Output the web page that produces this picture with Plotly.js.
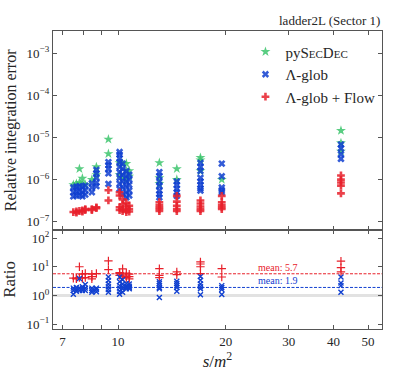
<!DOCTYPE html>
<html>
<head>
<meta charset="utf-8">
<script src="https://cdn.plot.ly/plotly-3.0.1.min.js"></script>
<style>body{margin:0;background:#fff}#chart{width:411px;height:374px}</style>
</head>
<body>
<div id="chart"></div>
<script>
// kinematic points s/m^2
const sPoints = [7.5, 7.65, 7.8, 7.95, 8.1, 8.45, 8.7, 9.4, 10.1, 10.3, 10.55, 10.75, 13.05, 14.6, 17.0, 19.5, 42.0];

// relative integration errors (per kinematic point)
const errPySecDec = [
  [7.5e-7], [8.0e-7, 6.8e-7], [1.8e-6, 8.5e-7], [1.07e-6, 7.8e-7], [7.5e-7],
  [1.0e-6], [2.0e-6, 1.3e-6], [9.0e-6, 4.1e-6],
  [2.5e-6, 1.3e-6], [2.4e-6, 1.1e-6], [2.4e-6, 1.6e-6, 1.0e-6], [1.6e-6, 1.2e-6],
  [2.5e-6, 1.1e-6, 8.0e-7], [1.8e-6, 1.0e-6], [3.3e-6, 2.9e-6, 1.6e-6], [1.0e-6],
  [1.45e-5, 7.4e-6, 4.7e-6]
];
const errGlob = [
  [6.5e-7, 5.0e-7, 4.0e-7], [6.8e-7, 5.3e-7, 4.2e-7], [7.0e-7, 5.5e-7, 4.3e-7], [6.6e-7, 5.0e-7, 4.0e-7], [7.2e-7, 5.6e-7, 4.4e-7],
  [8.2e-7, 6.5e-7, 5.0e-7], [1.7e-6, 1.4e-6, 1.1e-6, 8.5e-7, 7.0e-7],
  [2.6e-6, 2.2e-6, 1.8e-6, 1.4e-6, 7.9e-7],
  [4.5e-6, 3.9e-6, 3.2e-6, 2.6e-6, 2.0e-6, 1.5e-6, 1.1e-6, 8.0e-7, 6.0e-7],
  [2.4e-6, 1.8e-6, 1.3e-6, 9.0e-7, 6.5e-7, 4.5e-7],
  [1.6e-6, 1.2e-6, 9.0e-7, 7.0e-7, 5.0e-7, 3.8e-7],
  [1.3e-6, 1.0e-6, 7.5e-7, 5.5e-7, 4.2e-7],
  [1.5e-6, 1.2e-6, 9.0e-7, 7.0e-7, 5.5e-7, 4.5e-7, 3.8e-7],
  [9.0e-7, 7.5e-7, 6.0e-7, 5.0e-7, 4.1e-7],
  [2.5e-6, 2.0e-6, 1.6e-6, 1.1e-6, 9.0e-7, 7.5e-7, 6.2e-7, 5.5e-7],
  [2.4e-6, 1.2e-6, 6.5e-7, 5.6e-7, 5.0e-7],
  [6.8e-6, 5.5e-6, 4.0e-6, 3.1e-6]
];
const errGlobFlow = [
  [1.7e-7], [1.75e-7, 1.65e-7], [1.8e-7], [1.85e-7, 1.75e-7], [2.0e-7, 1.9e-7],
  [2.0e-7, 1.9e-7], [2.2e-7, 2.1e-7], [5.6e-7, 3.2e-7],
  [5.0e-7, 4.2e-7, 2.2e-7, 1.9e-7], [3.4e-7, 2.6e-7, 2.0e-7, 1.8e-7],
  [2.8e-7, 2.3e-7, 1.9e-7, 1.7e-7], [2.4e-7, 2.0e-7, 1.75e-7],
  [2.9e-7, 2.5e-7, 2.2e-7, 2.0e-7, 1.8e-7], [4.1e-7, 3.0e-7, 2.4e-7, 2.0e-7, 1.8e-7],
  [3.2e-7, 2.7e-7, 2.3e-7, 2.0e-7, 1.8e-7], [4.1e-7, 2.9e-7, 2.5e-7, 2.2e-7, 2.0e-7],
  [1.25e-6, 1.0e-6, 8.5e-7, 7.2e-7, 4.7e-7]
];

// ratios pySecDec / method (per kinematic point)
const ratioGlob = [
  [1.8, 1.5, 1.1], [1.9, 1.6, 1.4], [3.9, 1.8, 1.5], [2.0, 1.7, 1.5], [2.4, 1.8, 1.5],
  [1.8, 1.5, 1.3], [1.8, 1.6, 1.35], [4.4, 3.3, 2.5, 2.0, 1.6, 1.3],
  [4.4, 3.0, 2.2, 1.8, 1.4, 1.1], [3.5, 2.5, 2.0, 1.7, 1.3], [2.6, 2.1, 1.9, 1.7], [2.5, 2.1, 1.9, 1.7],
  [3.0, 2.6, 2.2, 1.9, 1.7, 0.85], [3.1, 2.6, 2.2, 1.9, 1.4], [4.6, 3.4, 2.5, 2.0, 1.7, 1.05],
  [2.2, 1.9, 1.6, 1.08], [4.4, 2.7, 2.2, 1.3]
];
const ratioFlow = [
  [4.0], [4.0, 3.8], [10.0, 4.2], [5.5, 4.0], [5.8, 4.2],
  [5.5, 4.5, 3.8], [5.8], [16, 8],
  [6.2, 5.8, 5.0], [8.5, 5.5, 4.5], [6.0, 4.8, 4.2], [5.5, 4.5, 3.8],
  [8.6, 5.0, 4.2], [6.6, 5.3], [14.7, 12.5, 10, 5.8], [8.6, 4.4], [15.7, 9.3, 6.6]
];
const meanGlob = 1.9;
const meanFlow = 5.7;

const xTickVals = [7, 8, 9, 10, 20, 30, 40, 50];
const xTickText = ['7', '', '', '10', '20', '30', '40', '50'];
const yTopTickVals = [1e-7, 1e-6, 1e-5, 1e-4, 1e-3];
const yTopTickText = ['10<sup>−7</sup>', '10<sup>−6</sup>', '10<sup>−5</sup>', '10<sup>−4</sup>', '10<sup>−3</sup>'];
const yBotTickVals = [0.1, 1, 10, 100];
const yBotTickText = ['10<sup>−1</sup>', '10<sup>0</sup>', '10<sup>1</sup>', '10<sup>2</sup>'];

function flatten(groups) {
  const xs = [], ys = [];
  groups.forEach((g, i) => g.forEach(v => { xs.push(sPoints[i]); ys.push(v); }));
  return {x: xs, y: ys};
}

const GREEN = '#3cc46c', BLUE = '#1140d0', RED = '#e8202a';
const FONT = '"Liberation Serif", "Times New Roman", serif';
const INK = '#262626';

const fPy = flatten(errPySecDec), fGl = flatten(errGlob), fFl = flatten(errGlobFlow);
const fRG = flatten(ratioGlob), fRF = flatten(ratioFlow);

const traces = [
  {x: fPy.x, y: fPy.y, xaxis: 'x2', yaxis: 'y2', type: 'scatter', mode: 'markers',
   name: 'pyS<span style="font-size:11px">EC</span>D<span style="font-size:11px">EC</span>',
   marker: {symbol: 'star', size: 7.5, color: GREEN, opacity: 0.85}},
  {x: fGl.x, y: fGl.y, xaxis: 'x2', yaxis: 'y2', type: 'scatter', mode: 'markers', name: 'Λ-glob',
   marker: {symbol: 'x', size: 6.5, color: BLUE, opacity: 0.85}},
  {x: fFl.x, y: fFl.y, xaxis: 'x2', yaxis: 'y2', type: 'scatter', mode: 'markers', name: 'Λ-glob + Flow',
   marker: {symbol: 'cross', size: 6.5, color: RED, opacity: 0.85}},
  {x: fRF.x, y: fRF.y, xaxis: 'x', yaxis: 'y', type: 'scatter', mode: 'markers', showlegend: false,
   marker: {symbol: 'cross-thin-open', size: 6, color: RED, line: {color: RED, width: 1.2}}},
  {x: fRG.x, y: fRG.y, xaxis: 'x', yaxis: 'y', type: 'scatter', mode: 'markers', showlegend: false,
   marker: {symbol: 'x-thin-open', size: 5, color: BLUE, line: {color: BLUE, width: 1.4}}}
];

const axLine = {showline: true, linecolor: '#555', linewidth: 1.2, mirror: 'ticks', ticks: 'inside',
  ticklen: 4, tickcolor: '#555', tickwidth: 1, showgrid: false, zeroline: false};

const layout = {
  width: 411, height: 374,
  margin: {l: 53, r: 29, t: 31, b: 45},
  paper_bgcolor: '#fff', plot_bgcolor: '#fff',
  font: {family: FONT, color: INK, size: 13},
  showlegend: true,
  legend: {x: 0.585, y: 0.985, xanchor: 'left', yanchor: 'top', bgcolor: 'rgba(0,0,0,0)',
    font: {family: FONT, size: 15, color: INK}, tracegroupgap: 0},
  xaxis: Object.assign({}, axLine, {type: 'log', range: [Math.log10(6.58), Math.log10(54.7)], anchor: 'y',
    domain: [0, 1], tickmode: 'array', tickvals: xTickVals, ticktext: xTickText,
    tickfont: {family: FONT, size: 13, color: INK},
    title: {text: '<i>s</i>/<i>m</i><sup>2</sup>', font: {family: FONT, size: 17, color: INK}, standoff: 5}}),
  xaxis2: Object.assign({}, axLine, {type: 'log', range: [Math.log10(6.58), Math.log10(54.7)], anchor: 'y2',
    domain: [0, 1], matches: 'x', tickmode: 'array', tickvals: xTickVals, showticklabels: false}),
  yaxis: Object.assign({}, axLine, {type: 'log', range: [-1.17, 2.29], anchor: 'x', domain: [0, 0.333],
    tickmode: 'array', tickvals: yBotTickVals, ticktext: yBotTickText,
    tickfont: {family: FONT, size: 13, color: INK},
    title: {text: 'Ratio', font: {family: FONT, size: 17, color: INK}, standoff: 6}}),
  yaxis2: Object.assign({}, axLine, {type: 'log', range: [-7.19, -2.476], anchor: 'x2', domain: [0.333, 1],
    tickmode: 'array', tickvals: yTopTickVals, ticktext: yTopTickText,
    tickfont: {family: FONT, size: 13, color: INK},
    title: {text: 'Relative integration error', font: {family: FONT, size: 16, color: INK}, standoff: 6}}),
  shapes: [
    {type: 'line', xref: 'x domain', yref: 'y', x0: 0, x1: 1, y0: 1, y1: 1, line: {color: '#e2e2e2', width: 3}, layer: 'below'},
    {type: 'line', xref: 'x domain', yref: 'y', x0: 0, x1: 1, y0: meanFlow, y1: meanFlow, line: {color: RED, width: 1, dash: '3px,1.5px'}},
    {type: 'line', xref: 'x domain', yref: 'y', x0: 0, x1: 1, y0: meanGlob, y1: meanGlob, line: {color: BLUE, width: 1, dash: '3px,1.5px'}}
  ],
  annotations: [
    {xref: 'paper', yref: 'paper', x: 1, y: 1, xanchor: 'right', yanchor: 'bottom', yshift: 1,
     text: 'ladder2L (Sector 1)', showarrow: false, font: {family: FONT, size: 13, color: INK}},
    {xref: 'x', yref: 'y', x: Math.log10(28), y: Math.log10(meanFlow), yanchor: 'bottom', yshift: -1,
     text: 'mean: ' + meanFlow.toFixed(1), showarrow: false, font: {family: FONT, size: 10, color: RED}},
    {xref: 'x', yref: 'y', x: Math.log10(28), y: Math.log10(meanGlob), yanchor: 'bottom', yshift: -1,
     text: 'mean: ' + meanGlob.toFixed(1), showarrow: false, font: {family: FONT, size: 10, color: BLUE}}
  ]
};

Plotly.newPlot('chart', traces, layout, {displayModeBar: false, staticPlot: true});
</script>
</body>
</html>
